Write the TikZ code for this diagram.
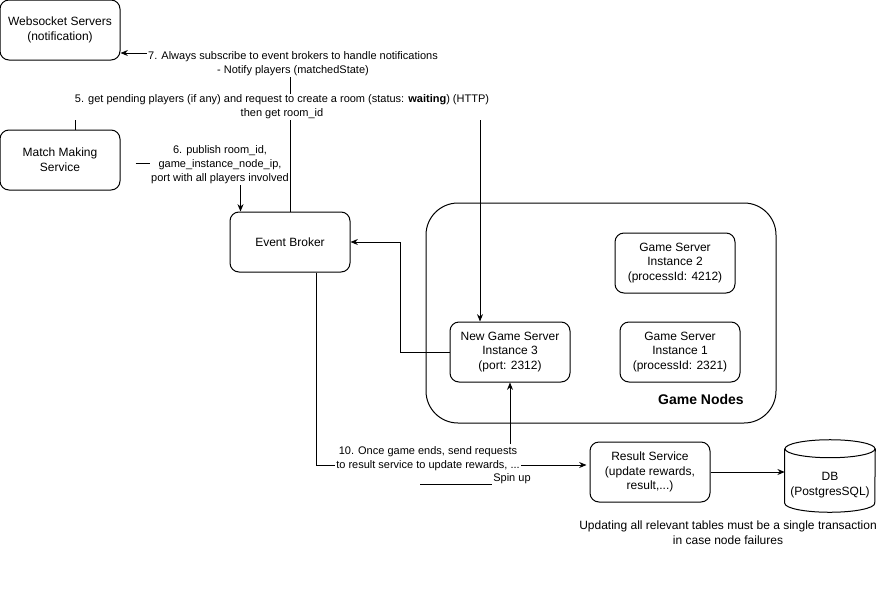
\documentclass[tikz,border=0pt]{standalone}
\usepackage{fontspec}
\setmainfont{Liberation Sans}
\usetikzlibrary{arrows.meta,calc}

\begin{document}
\begin{tikzpicture}[x=0.75pt,y=-0.75pt,
    box/.style={draw,line width=0.75pt,rounded corners=6.75pt,minimum width=90pt,minimum height=45pt,align=center,font=\fontsize{9}{11}\selectfont},
    lbl/.style={fill=white,inner sep=1pt,align=center,font=\fontsize{8.25}{10.5}\selectfont},
    conn/.style={line width=0.75pt},
    arr/.style={conn,-{Stealth[length=5.5pt,width=4.5pt]}}]
    \useasboundingbox (0,0) rectangle (886,593);
    % services on the left
    \node[box] (ws) at (60,30) {Websocket Servers\\(notification)};
    \node[box] (mm) at (60,160) {Match Making\\Service};
    \node[box] (eb) at (290,242) {Event Broker};
    % game nodes
    \node[draw,line width=0.75pt,rounded corners=24pt,minimum width=262.5pt,minimum height=165pt] (gamenodes) at (601,313) {};
    \node[font=\bfseries\fontsize{10.5}{12}\selectfont] (gnlabel) at (701,399) {Game Nodes};
    \node[box] (gs2) at (675,263) {Game Server\\Instance 2\\(processId: 4212)};
    \node[box] (gs1) at (680,352) {Game Server\\Instance 1\\(processId: 2321)};
    \node[box] (ngs) at (510,352) {New Game Server\\Instance 3\\(port: 2312)};
    % results
    \node[box] (rs) at (650,472) {Result Service\\(update rewards,\\result,...)};
    \node[minimum width=67.5pt,minimum height=54pt,inner sep=0pt] (db) at (830,476) {};
    \draw[conn] (db.north west) ++(0,9) -- ($(db.south west)+(0,-9)$) arc (180:0:45 and 9) -- ($(db.north east)+(0,9)$);
    \draw[conn] ($(db.north)+(0,9)$) ellipse (45 and 9);
    \node[align=center,font=\fontsize{9}{11}\selectfont] (dbtext) at (830,485) {DB\\(PostgresSQL)};
    \coordinate (spin) at (420,484);
    % connectors
    \draw[arr] (eb.north) |- (ws.east |- 0,53);
    \draw[arr] (mm.north -| 75,0) |- (480,106) -- (ngs.north -| 480,0);
    \draw[arr] ($(mm.east)+(15,3)$) -| ($(eb.north west)+(11,0)$);
    \draw[arr] (ngs.west) -| (400,242) -- (eb.east);
    \draw[arr] ($(eb.south)+(26,0)$) |- ($(rs.west)+(-3,-7)$);
    \draw[arr] (spin) -| (ngs.south);
    \draw[arr] (rs.east) -- (db.west |- rs.east);
    % labels
    \node[lbl] (l7) at (293,64) {7. Always subscribe to event brokers to handle notifications\\- Notify players (matchedState)};
    \node[lbl] (l5) at (282,107) {5. get pending players (if any) and request to create a room (status: \textbf{waiting}) (HTTP)\\then get room\_id};
    \node[lbl] (l6) at (220,165) {6. publish room\_id,\\game\_instance\_node\_ip,\\port with all players involved};
    \node[lbl,inner ysep=2pt] (l10) at (428,459) {10. Once game ends, send requests\\to result service to update rewards, ...};
    \node[lbl,inner ysep=2pt] (lspin) at (512,479) {Spin up};
    \node[align=center,font=\fontsize{9}{11}\selectfont] (note) at (728,533) {Updating all relevant tables must be a single transaction\\in case node failures};
\end{tikzpicture}
\end{document}
